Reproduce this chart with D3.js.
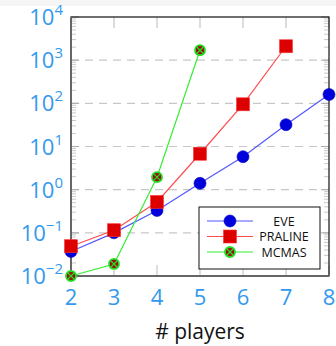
<!DOCTYPE html>
<html><head><meta charset="utf-8">
<script src="https://cdn.jsdelivr.net/npm/d3@7"></script>
<style>body{margin:0;background:#fff;}svg{display:block;}</style>
</head><body>
<svg id="c" width="336" height="346"></svg>
<script>
const players = [2,3,4,5,6,7,8];
const eve = [0.037,0.1,0.33,1.4,5.8,32,160];
const praline = [0.049,0.115,0.52,6.8,95,2100];
const mcmas = [0.01,0.019,1.95,1700];
const yTicks = [-2,-1,0,1,2,3,4];
const xTicks = [2,3,4,5,6,7,8];
const seriesNames = ["EVE","PRALINE","MCMAS"];

const svg = d3.select("#c");
svg.append("rect").attr("x",0).attr("y",0).attr("width",336).attr("height",6).attr("fill","#f5f5f5");
const L=71,R=329,T=17,B=276;
const x = d3.scaleLinear().domain([2,8]).range([L,R]);
const y = d3.scaleLog().domain([0.01,10000]).range([B,T]);
const lab = "#3399ee";
const font = "'Open Sans', 'DejaVu Sans', sans-serif";

// gridlines
svg.append("g").selectAll("line").data(yTicks.slice(1,-1)).join("line")
  .attr("x1",L).attr("x2",R).attr("y1",d=>y(Math.pow(10,d))).attr("y2",d=>y(Math.pow(10,d)))
  .attr("stroke","#c8c8c8").attr("stroke-width",1.2).attr("stroke-dasharray","8,6");

// minor ticks
const minors=[];
for(let e=-2;e<4;e++) for(let k=2;k<10;k++) minors.push(k*Math.pow(10,e));
const mg = svg.append("g");
mg.selectAll(".ml").data(minors).join("line").attr("x1",L).attr("x2",L+5)
  .attr("y1",d=>y(d)).attr("y2",d=>y(d)).attr("stroke","#bbb").attr("stroke-width",0.8);
mg.selectAll(".mr").data(minors).join("line").attr("x1",R-5).attr("x2",R)
  .attr("y1",d=>y(d)).attr("y2",d=>y(d)).attr("stroke","#bbb").attr("stroke-width",0.8);
// major y ticks
mg.selectAll(".Ml").data(yTicks).join("line").attr("x1",L).attr("x2",L+8)
  .attr("y1",d=>y(Math.pow(10,d))).attr("y2",d=>y(Math.pow(10,d))).attr("stroke","#aaa");
mg.selectAll(".Mr").data(yTicks).join("line").attr("x1",R-8).attr("x2",R)
  .attr("y1",d=>y(Math.pow(10,d))).attr("y2",d=>y(Math.pow(10,d))).attr("stroke","#aaa");
// x ticks
mg.selectAll(".xt").data(xTicks).join("line").attr("x1",d=>x(d)).attr("x2",d=>x(d))
  .attr("y1",T).attr("y2",T+11).attr("stroke","#bbb");
mg.selectAll(".xb").data(xTicks).join("line").attr("x1",d=>x(d)).attr("x2",d=>x(d))
  .attr("y1",B-11).attr("y2",B).attr("stroke","#bbb");

// frame
svg.append("rect").attr("x",L).attr("y",T).attr("width",R-L).attr("height",B-T)
  .attr("fill","none").attr("stroke","#111").attr("stroke-width",1.2);
svg.append("line").attr("x1",L).attr("x2",L).attr("y1",T).attr("y2",B).attr("stroke","#666").attr("stroke-width",2);
svg.append("line").attr("x1",L).attr("x2",R).attr("y1",B).attr("y2",B).attr("stroke","#666").attr("stroke-width",2);

// y labels
const yl = svg.append("g").attr("font-family",font).attr("fill",lab);
yTicks.forEach(d=>{
  const t = yl.append("text").attr("x",L-8).attr("y",y(Math.pow(10,d))+8).attr("text-anchor","end").attr("font-size",22);
  t.append("tspan").text("10");
  t.append("tspan").attr("dy",-10).attr("font-size",15).text(d<0?"\u2212"+(-d):String(d));
});
// x labels
svg.append("g").selectAll("text").data(xTicks).join("text").attr("x",d=>x(d)).attr("y",B+29)
  .attr("text-anchor","middle").attr("font-family",font).attr("font-size",22).attr("fill",lab).text(d=>d);
svg.append("text").attr("x",200).attr("y",339).attr("text-anchor","middle").attr("font-family",font)
  .attr("font-size",21).attr("fill","#111").text("# players");

const line = d3.line().x(d=>x(d[0])).y(d=>y(d[1]));
const cfg = [
  {vals:eve, lc:"#5555ff", mc:"#0000dd", m:"circle"},
  {vals:praline, lc:"#ff4d4d", mc:"#dd0000", m:"square"},
  {vals:mcmas, lc:"#33ee33", mc:"#991111", m:"otimes"}
];
function marker(g, cx, cy, c){
  if(c.m==="circle") g.append("circle").attr("cx",cx).attr("cy",cy).attr("r",6).attr("fill",c.mc).attr("stroke","#0000bb").attr("stroke-width",0.6);
  else if(c.m==="square") g.append("rect").attr("x",cx-6.5).attr("y",cy-6.5).attr("width",13).attr("height",13).attr("fill",c.mc).attr("stroke","#ff3333").attr("stroke-width",0.6);
  else {
    g.append("circle").attr("cx",cx).attr("cy",cy).attr("r",5).attr("fill",c.mc).attr("stroke","#22dd22").attr("stroke-width",1.8);
    const r=3.5;
    g.append("line").attr("x1",cx-r).attr("y1",cy-r).attr("x2",cx+r).attr("y2",cy+r).attr("stroke","#22dd22").attr("stroke-width",1.3);
    g.append("line").attr("x1",cx-r).attr("y1",cy+r).attr("x2",cx+r).attr("y2",cy-r).attr("stroke","#22dd22").attr("stroke-width",1.3);
  }
}
const pg = svg.append("g");
cfg.forEach(c=>{
  const pts = c.vals.map((v,i)=>[players[i],v]);
  pg.append("path").attr("d",line(pts)).attr("fill","none").attr("stroke",c.lc).attr("stroke-width",1.2);
});
cfg.forEach(c=>{
  c.vals.forEach((v,i)=>marker(pg, x(players[i]), y(v), c));
});

// legend
const lg = svg.append("g");
lg.append("rect").attr("x",199).attr("y",207).attr("width",121).attr("height",62).attr("fill","#fff").attr("stroke","#111").attr("stroke-width",1);
seriesNames.forEach((n,i)=>{
  const cy = 221+i*15.5, c = cfg[i];
  lg.append("line").attr("x1",207).attr("x2",253).attr("y1",cy).attr("y2",cy).attr("stroke",c.lc).attr("stroke-width",1.2);
  marker(lg,230,cy,c);
  lg.append("text").attr("x",284).attr("y",cy+4.5).attr("text-anchor","middle").attr("font-family",font).attr("font-size",12.5).attr("fill","#111").text(n);
});
</script>
</body></html>
